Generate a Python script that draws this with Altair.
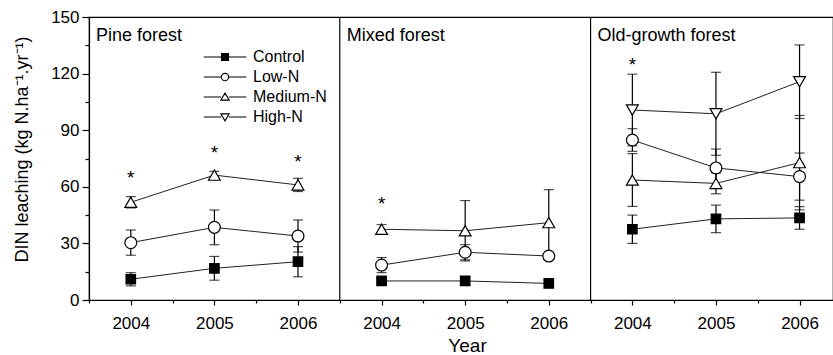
import altair as alt
import pandas as pd

panels = ["Pine forest", "Mixed forest", "Old-growth forest"]
years = [2004, 2005, 2006]
series = ["Control", "Low-N", "Medium-N", "High-N"]

# mean DIN leaching per panel (rows) and year (cols)
control_mean = [[11.0, 16.8, 20.3], [10.1, 10.1, 8.8], [37.5, 43.0, 43.5]]
control_err = [[3.5, 6.3, 8.0], [1.5, 2.0, 1.5], [7.5, 7.3, 6.0]]
lown_mean = [[30.4, 38.5, 33.9], [18.5, 25.3, 23.3], [84.8, 70.0, 65.4]]
lown_err = [[6.7, 9.2, 8.5], [4.0, 4.0, 2.0], [6.0, 10.0, 12.5]]
medn_mean = [[51.8, 66.2, 61.0], [37.5, 36.7, 41.0], [63.6, 61.8, 72.8]]
medn_err = [[3.0, 2.0, 3.5], [2.5, 16.0, 17.5], [14.0, 5.5, 25.0]]
highn_mean = [None, None, [100.7, 98.7, 115.7]]
highn_err = [None, None, [19.0, 22.0, 19.5]]

star_panel = [0, 0, 0, 1, 2]
star_year = [2004, 2005, 2006, 2004, 2004]
star_value = [67.5, 80.4, 76.0, 53.5, 127.2]

rows = []
for s, means, errs in zip(series, [control_mean, lown_mean, medn_mean, highn_mean],
                          [control_err, lown_err, medn_err, highn_err]):
    for pi, p in enumerate(panels):
        if means[pi] is None:
            continue
        for yi, yr in enumerate(years):
            rows.append({"panel": p, "pidx": pi, "year": yr, "series": s,
                         "mean": means[pi][yi], "err": errs[pi][yi]})
df = pd.DataFrame(rows)
stars = pd.DataFrame({"pidx": star_panel, "year": star_year, "value": star_value, "mark": "*"})
titles = pd.DataFrame({"panel": panels, "pidx": list(range(len(panels)))})
bounds = pd.DataFrame({"pidx": list(range(1, len(panels)))})

FONT = "Liberation Sans"
POS = "datum.pidx * 3 + datum.year - 2003.5"

xscale = alt.Scale(domain=[0, 8.9], nice=False, zero=False)
yscale = alt.Scale(domain=[0, 150], nice=False)
xaxis = alt.Axis(
    values=[i * 0.5 for i in range(18)],
    labelExpr="datum.value % 1 == 0.5 ? '' + (2004 + floor(datum.value) % 3) : ''",
    tickSize={"condition": {"test": "datum.value % 1 == 0.5", "value": 5}, "value": 3},
    labelPadding=10, labelFontSize=17, titleFontSize=19, grid=False,
    titleX=378, titleY=51, titleBaseline="alphabetic", titleAlign="center",
    labelFlush=False, labelOverlap=False,
)
yaxis = alt.Axis(
    values=[i * 15 for i in range(11)],
    labelExpr="datum.value % 30 == 0 ? datum.label : ''",
    tickSize={"condition": {"test": "datum.value % 30 == 0", "value": 7}, "value": 4},
    labelPadding=3, labelFontSize=17, titleFontSize=18, grid=False,
    titleX=-62, titleY=132, titleBaseline="alphabetic", titleAlign="center",
    titleAngle=270, labelFlush=False, labelOverlap=False,
)

X = lambda f: alt.X(f"{f}:Q", scale=xscale, axis=xaxis, title="Year")
Y = lambda f: alt.Y(f"{f}:Q", scale=yscale, axis=yaxis,
                    title="DIN leaching (kg N.ha⁻¹.yr⁻¹)")

base = alt.Chart(df).transform_calculate(pos=POS)

sep = alt.Chart(bounds).transform_calculate(bpos="datum.pidx * 3").mark_rule(
    color="black", strokeWidth=1.2).encode(x=X("bpos"))

errb = base.transform_calculate(
    lo="datum.mean - datum.err", hi="datum.mean + datum.err"
).mark_errorbar(ticks=True, size=10, thickness=1.2, color="black").encode(
    x=X("pos"), y=Y("lo"), y2="hi:Q")

lines = base.mark_line(color="#222", strokeWidth=1).encode(
    x=X("pos"), y=Y("mean"), detail=["panel:N", "series:N"], order="pos:Q")

pts = base.mark_point(filled=True, stroke="black", strokeWidth=1.2, opacity=1).encode(
    x=X("pos"), y=Y("mean"),
    shape=alt.Shape("series:N", scale=alt.Scale(
        domain=series, range=["square", "circle", "triangle-up", "triangle-down"]), legend=None),
    fill=alt.condition("datum.series == 'Control'", alt.value("black"), alt.value("white")),
    size=alt.condition("datum.series == 'Control'", alt.value(90), alt.value(140)),
)

seg = "M-6.1,0L-1.1,0M1.1,0L6.1,0"
leg_shapes = [
    seg + "M-1,-1L1,-1L1,1L-1,1Z",
    seg + "M1.05,0A1.05,1.05,0,1,1,-1.05,0A1.05,1.05,0,1,1,1.05,0Z",
    seg + "M0,-1.1L1.2,0.9L-1.2,0.9Z",
    seg + "M0,1.1L1.2,-0.9L-1.2,-0.9Z",
]
leg = alt.Legend(orient="none", legendX=128, legendY=32, title=None,
                 labelFontSize=16, labelFont=FONT, labelColor="black",
                 symbolSize=49, symbolStrokeWidth=1.1, symbolStrokeColor="black",
                 symbolOpacity=1, labelOffset=20, rowPadding=4, padding=0)
legend_layer = alt.Chart(pd.DataFrame({"series": series})).mark_point(
    filled=True, size=49, strokeWidth=1.1, opacity=1).encode(
    x=alt.value(-500), y=alt.value(-500),
    shape=alt.Shape("series:N", scale=alt.Scale(domain=series, range=leg_shapes), legend=leg),
    fill=alt.Fill("series:N", scale=alt.Scale(domain=series,
                  range=["black", "white", "white", "white"]), legend=leg),
    stroke=alt.Stroke("series:N", scale=alt.Scale(domain=series,
                      range=["black", "black", "black", "black"]), legend=leg),
)

star_layer = alt.Chart(stars).transform_calculate(pos=POS).mark_text(
    fontSize=19, font=FONT, baseline="alphabetic", dy=11, color="black").encode(
    x=X("pos"), y=Y("value"), text="mark:N")

title_layer = alt.Chart(titles).transform_calculate(tpos="datum.pidx * 3").mark_text(
    align="left", baseline="alphabetic", dx=7, fontSize=18, font=FONT, color="black").encode(
    x=X("tpos"), y=alt.value(24), text="panel:N")

chart = alt.layer(sep, errb, lines, pts, star_layer, title_layer, legend_layer).resolve_scale(
    shape="independent", fill="independent", stroke="independent"
).properties(
    width=744, height=283,
    padding={"left": 89, "top": 17, "right": 0, "bottom": 55},
    autosize=alt.AutoSizeParams(type="none"),
).configure_view(stroke="black", strokeWidth=1.2).configure_axis(
    labelFont=FONT, titleFont=FONT, labelColor="black", titleColor="black",
    domainColor="black", tickColor="black", domainWidth=1.2, tickWidth=1.2,
    titleFontWeight="normal",
)

chart.save("out.html", embed_options={"renderer": "svg", "actions": False})
